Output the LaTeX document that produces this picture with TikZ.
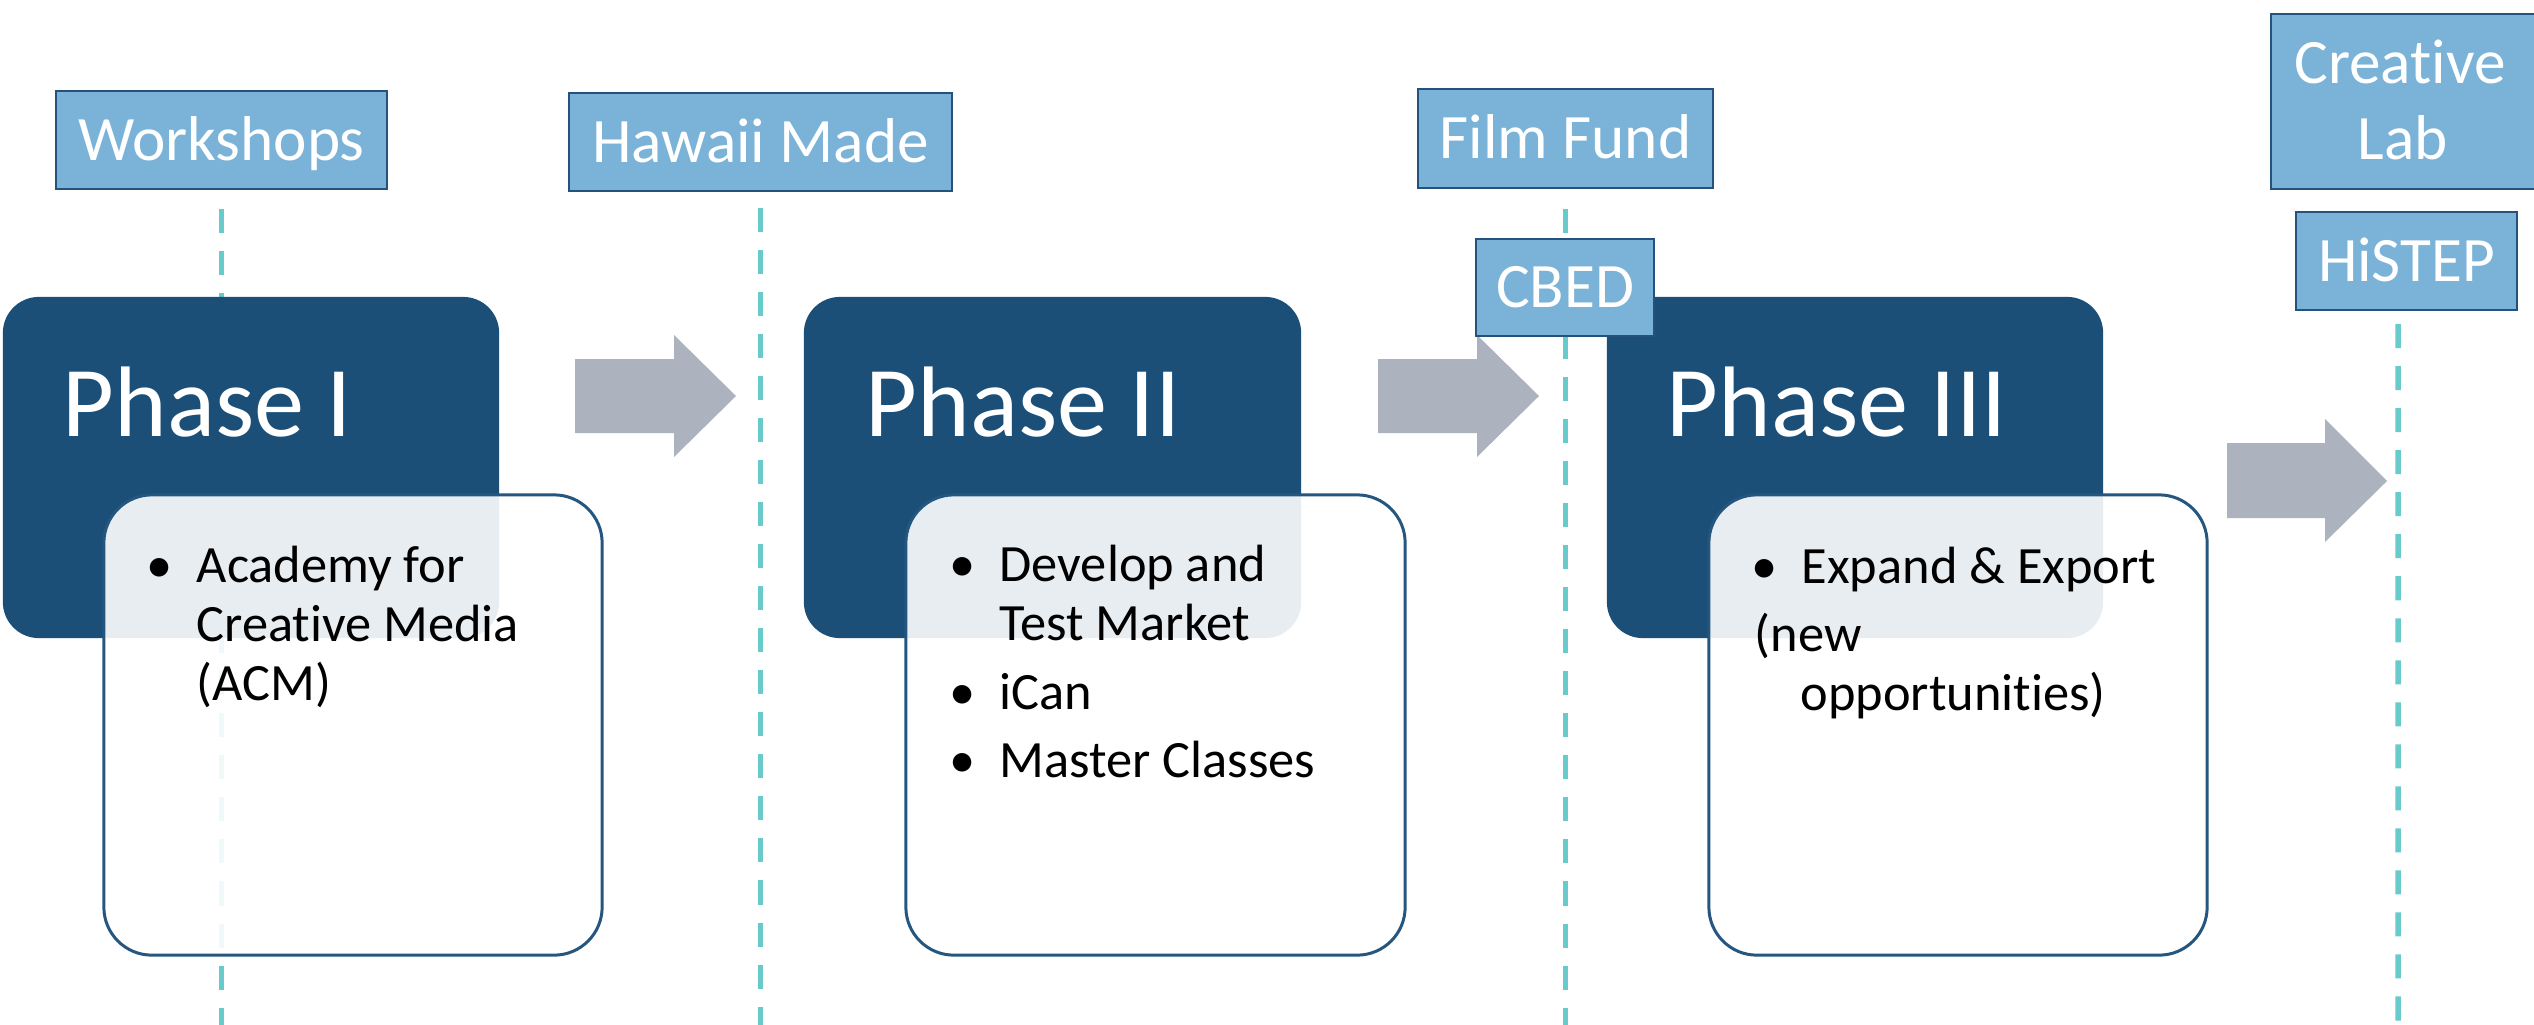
\documentclass[tikz,border=0pt]{standalone}
\usepackage{fontspec}
\setmainfont{Carlito}[Ligatures={NoCommon}]
\usetikzlibrary{calc}
\definecolor{phaseblue}{HTML}{1B4F77}
\definecolor{lblfill}{HTML}{7BB3D8}
\definecolor{lblborder}{HTML}{24527C}
\definecolor{itemborder}{HTML}{24567F}
\definecolor{tealline}{HTML}{68CACA}
\definecolor{arrowgray}{HTML}{ACB3BF}
\newcommand\itembullet{\llap{•\hspace{0.24cm}}}
\begin{document}
\begin{tikzpicture}[x=0.01cm,y=-0.01cm,
  lbl/.style={draw=lblborder, line width=0.6pt, fill=lblfill, text=white,
    font=\fontsize{18}{21}\selectfont, text height=0.40cm, text depth=0pt, inner sep=0pt},
  lbltext/.style={text=white, font=\fontsize{18}{21}\selectfont, anchor=base, inner sep=0pt},
  phasebox/.style={fill=phaseblue, rounded corners=0.36cm, inner sep=0pt},
  itembox/.style={draw=itemborder, line width=0.85pt, fill=white, fill opacity=0.9,
    draw opacity=1, rounded corners=0.48cm, inner sep=0pt},
  phasetitle/.style={text=white, font=\fontsize{28.5}{34}\selectfont, anchor=base west, inner sep=0pt},
  itemtext/.style={text=black, font=\fontsize{14.9}{17}\selectfont, anchor=base west, inner sep=0pt},
  timeline/.style={draw=tealline, line width=1.56pt, dash pattern=on 0.24cm off 0.18cm},
  blockarrow/.style={fill=arrowgray}]
\useasboundingbox (0,0) rectangle (2534,1024);

% label boxes (top)
\node[lbl, minimum width=3.31cm, minimum height=0.98cm] (ws) at (221.5,140) {Workshops};
\node[lbl, minimum width=3.83cm, minimum height=0.98cm] (hm) at (760.5,142) {Hawaii Made};
\node[lbl, minimum width=2.95cm, minimum height=0.99cm] (ff) at (1565.5,138.5) {Film Fund};
\node[lbl, minimum width=2.21cm, minimum height=0.98cm] (hs) at (2406.5,261) {HiSTEP};
\node[lbl, minimum width=2.74cm, minimum height=1.75cm] (clab) at (2408,101.5) {};
\node[lbltext] (clab1) at (2400,83) {Creative};
\node[lbltext] (clab2) at (2403,159) {Lab};

% timelines
\coordinate (wsEnd) at (221.5,1030);
\coordinate (hmEnd) at (760.5,1030);
\coordinate (ffEnd) at (1565.5,1030);
\coordinate (hsEnd) at (2398,1030);
\draw[timeline] ([yshift=-0.19cm]ws.south) -- (wsEnd);
\draw[timeline] ([yshift=-0.16cm]hm.south) -- (hmEnd);
\draw[timeline] ([yshift=-0.20cm]ff.south) -- (ffEnd);
\draw[timeline] ([xshift=-0.085cm,yshift=-0.13cm]hs.south) -- (hsEnd);

% phase boxes
\node[phasebox, minimum width=4.96cm, minimum height=3.41cm] (p1) at (251,467.5) {};
\node[phasebox, minimum width=4.97cm, minimum height=3.41cm] (p2) at (1052.5,467.5) {};
\node[phasebox, minimum width=4.96cm, minimum height=3.41cm] (p3) at (1855,467.5) {};

% item boxes
\node[itembox, minimum width=4.98cm, minimum height=4.60cm] (b1) at (353,725) {};
\node[itembox, minimum width=4.99cm, minimum height=4.60cm] (b2) at (1155.5,725) {};
\node[itembox, minimum width=4.98cm, minimum height=4.60cm] (b3) at (1958,725) {};

% phase titles
\node[phasetitle] (t1) at (62,436) {Phase I};
\node[phasetitle] (t2) at (865,436) {Phase II};
\node[phasetitle] (t3) at (1666,436) {Phase III};

% items
\node[itemtext] (i11) at (196,582) {\itembullet Academy for};
\node[itemtext] (i12) at (196,641) {Creative Media};
\node[itemtext] (i13) at (196,700) {(ACM)};

\node[itemtext] (i21) at (999,581) {\itembullet Develop and};
\node[itemtext] (i22) at (999,640) {Test Market};
\node[itemtext] (i23) at (999,709) {\itembullet iCan};
\node[itemtext] (i24) at (999,777) {\itembullet Master Classes};

\node[itemtext] (i31) at (1801,583) {\itembullet Expand \& Export};
\node[itemtext] (i32) at (1754,651) {(new};
\node[itemtext] (i33) at (1800,710) {opportunities)};

% block arrows
\fill[blockarrow] (575,359) -- (674,359) -- (674,335) -- (736,396) -- (674,457) -- (674,433) -- (575,433) -- cycle;
\fill[blockarrow] (1378,359) -- (1477,359) -- (1477,335) -- (1539,396) -- (1477,457) -- (1477,433) -- (1378,433) -- cycle;
\fill[blockarrow] (2227,443) -- (2325,443) -- (2325,419) -- (2387,481) -- (2325,542) -- (2325,518) -- (2227,518) -- cycle;

% CBED label (on top)
\node[lbl, minimum width=1.78cm, minimum height=0.97cm] (cbed) at (1565,287.5) {CBED};
\end{tikzpicture}
\end{document}
